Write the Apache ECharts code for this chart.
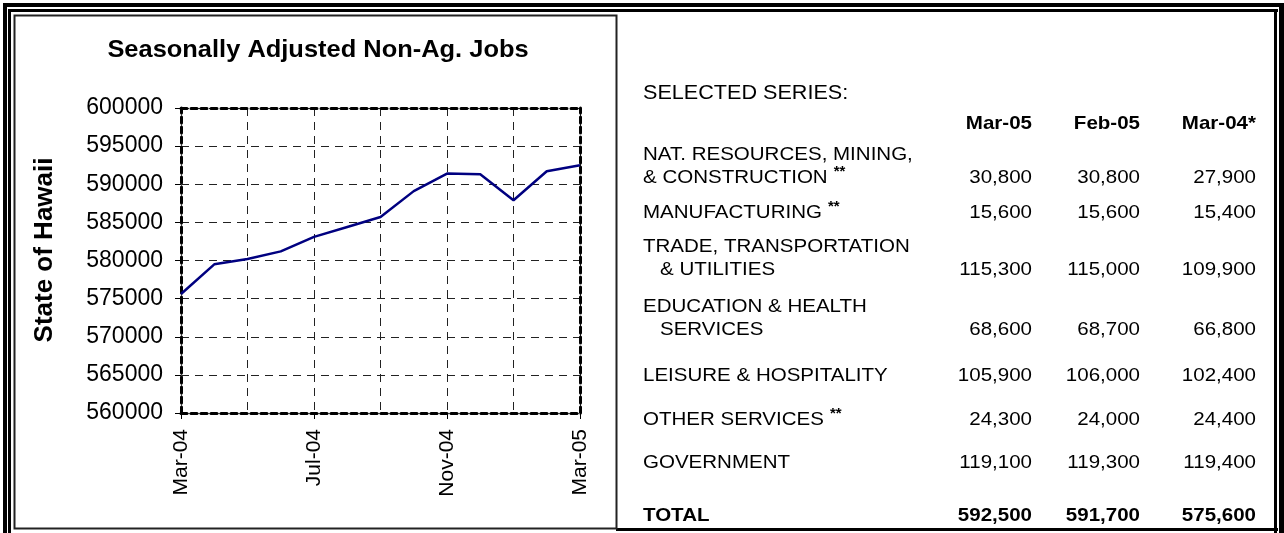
<!DOCTYPE html>
<html><head><meta charset="utf-8">
<script src="https://cdn.jsdelivr.net/npm/echarts@6/dist/echarts.min.js"></script>
<style>html,body{margin:0;padding:0;background:#fff}#c{width:1284px;height:533px}</style>
</head><body><div id="c"></div>
<script>
// ---- chart data ----
const months = ['Mar-04','Apr-04','May-04','Jun-04','Jul-04','Aug-04','Sep-04','Oct-04','Nov-04','Dec-04','Jan-05','Feb-05','Mar-05'];
const jobs = [575600,579500,580200,581200,583100,584400,585700,589100,591400,591300,587900,591700,592500];
const yMin = 560000, yMax = 600000, yStep = 5000;
const chartTitle = 'Seasonally Adjusted Non-Ag. Jobs';
const yAxisName = 'State of Hawaii';

// ---- table data ----
const tableHeading = 'SELECTED SERIES:';
const colHeads = ['Mar-05','Feb-05','Mar-04*'];
const rowLines = [
  ['NAT. RESOURCES, MINING,','& CONSTRUCTION'],
  ['MANUFACTURING'],
  ['TRADE, TRANSPORTATION','  & UTILITIES'],
  ['EDUCATION & HEALTH','  SERVICES'],
  ['LEISURE & HOSPITALITY'],
  ['OTHER SERVICES'],
  ['GOVERNMENT'],
  ['TOTAL']
];
const rowStars = [true,true,false,false,false,true,false,false];
const valMar05 = [30800,15600,115300,68600,105900,24300,119100,592500];
const valFeb05 = [30800,15600,115000,68700,106000,24000,119300,591700];
const valMar04 = [27900,15400,109900,66800,102400,24400,119400,575600];

const FONT = "'Liberation Sans', Arial, sans-serif";
const chart = echarts.init(document.getElementById('c'), null, {renderer:'canvas'});

// layout
const rowY = [178,213,270,330,376,420,463,516];
const colRight = [1032,1140,1256];
const labelX = 643;

const g = [];
function band(x,y,w,h){ g.push({type:'rect', silent:true, shape:{x:x,y:y,width:w,height:h}, style:{fill:'#000'}}); }
band(3,3,1281,4); band(8,9,1270,3);
band(3,3,4,530); band(8,9,3,524);
band(1279,3,5,530); band(1274,9,3,524);
band(616,528,662,3);
g.push({type:'rect', silent:true, shape:{x:14.5,y:15.5,width:602,height:513}, style:{fill:null, stroke:'#222', lineWidth:2}});

// title
g.push({type:'text', x:318, y:50, scaleX:1.06, style:{text:chartTitle, font:'bold 24px '+FONT, fill:'#000', textAlign:'center', textVerticalAlign:'middle'}});
// y axis name
g.push({type:'text', x:45, y:250, rotation:Math.PI/2, style:{text:yAxisName, font:'bold 26px '+FONT, fill:'#000', textAlign:'center', textVerticalAlign:'middle'}});

// table
const tf = '19px '+FONT, tfb = 'bold 19px '+FONT;
const mctx = document.createElement('canvas').getContext('2d');
g.push({type:'text', x:labelX, y:93, scaleX:1.08, style:{text:tableHeading, font:'20px '+FONT, fill:'#000', textVerticalAlign:'middle'}});
colHeads.forEach((h,i)=>g.push({type:'text', x:colRight[i], y:124, scaleX:1.08, style:{text:h, font:tfb, fill:'#000', textAlign:'right', textVerticalAlign:'middle'}}));
const cols = [valMar05, valFeb05, valMar04];
rowLines.forEach((lines,r)=>{
  const bold = r === rowLines.length-1;
  const f = bold ? tfb : tf;
  const yLast = rowY[r];
  lines.forEach((ln,k)=>{
    const y = yLast - (lines.length-1-k)*23;
    const txt = ln.replace(/^ +/,'');
    const x = labelX + (ln.startsWith('  ') ? 17 : 0);
    g.push({type:'text', x:x, y:y, scaleX:1.08, style:{text:txt, font:f, fill:'#000', textVerticalAlign:'middle'}});
    if (k === lines.length-1 && rowStars[r]) {
      mctx.font = f;
      const w = mctx.measureText(txt).width*1.08;
      g.push({type:'text', x:x+w+6, y:y-6, style:{text:'**', font:'bold 15px '+FONT, fill:'#000', textVerticalAlign:'middle'}});
    }
  });
  cols.forEach((c,i)=>g.push({type:'text', x:colRight[i], y:yLast, scaleX:1.08, style:{text:c[r].toLocaleString('en-US'), font:f, fill:'#000', textAlign:'right', textVerticalAlign:'middle'}}));
});

const dashedBold = {show:true, lineStyle:{color:'#000', width:3, type:[6,4]}};
const option = {
  animation:false,
  backgroundColor:'#fff',
  grid:{left:181, top:108, width:399, height:305},
  xAxis:[
    {type:'category', data:months, boundaryGap:false, position:'bottom',
     axisLine:{show:true, lineStyle:{color:'#666', width:1}},
     axisTick:{show:true, interval:3, length:6, lineStyle:{color:'#000'}},
     axisLabel:{interval:3, rotate:90, fontSize:21, fontFamily:FONT, color:'#000', margin:16},
     splitLine:{show:true, interval:1, lineStyle:{color:'#222', width:1, type:[8,6]}}},
    {type:'category', data:months, boundaryGap:false, position:'bottom', axisLine:dashedBold, axisTick:{show:false}, axisLabel:{show:false}, splitLine:{show:false}},
    {type:'category', data:months, boundaryGap:false, position:'top', axisLine:dashedBold, axisTick:{show:false}, axisLabel:{show:false}, splitLine:{show:false}}
  ],
  yAxis:[
    {type:'value', min:yMin, max:yMax, interval:yStep, position:'left',
     axisLine:{show:true, lineStyle:{color:'#666', width:1}},
     axisTick:{show:true, length:6, lineStyle:{color:'#000'}},
     axisLabel:{fontSize:23, fontFamily:FONT, color:'#000', margin:18, formatter:v=>String(v)},
     splitLine:{show:true, lineStyle:{color:'#222', width:1, type:[8,6]}}},
    {type:'value', min:yMin, max:yMax, interval:yStep, position:'left', axisLine:dashedBold, axisTick:{show:false}, axisLabel:{show:false}, splitLine:{show:false}},
    {type:'value', min:yMin, max:yMax, interval:yStep, position:'right', axisLine:dashedBold, axisTick:{show:false}, axisLabel:{show:false}, splitLine:{show:false}}
  ],
  series:[{type:'line', data:jobs, xAxisIndex:0, yAxisIndex:0, symbol:'none', lineStyle:{color:'#000080', width:2.5}, z:5}],
  graphic:g
};
chart.setOption(option);
</script>
</body></html>
